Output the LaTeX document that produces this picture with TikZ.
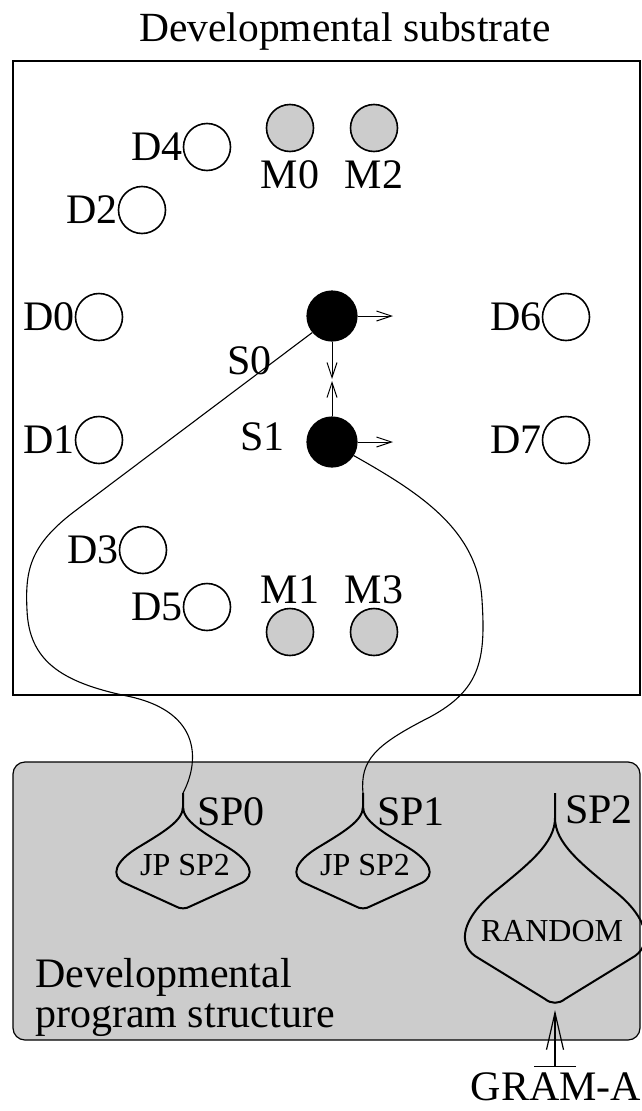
\documentclass[tikz,border=0pt]{standalone}
\usepackage{fontspec}
\setmainfont{Liberation Serif}
\usetikzlibrary{positioning,arrows.meta}

\tikzset{
  cell/.style={circle, draw, line width=1.6pt, minimum size=47pt, inner sep=0pt},
  morph/.style={cell, fill=black!20},
  spot/.style={circle, draw, fill=black, line width=1.2pt, minimum size=50pt, inner sep=0pt},
  lab/.style={inner sep=0pt, font=\fontsize{42}{44}\selectfont},
  small/.style={inner sep=0pt, font=\fontsize{32}{34}\selectfont},
  wire/.style={line width=1.1pt},
  sarrow/.style={line width=1pt, -{Straight Barb[length=15pt,width=10pt]}},
  spshape/.pic={
    \coordinate (-top) at (0,0);
    \coordinate (-bot) at (0,211);
    \draw[line width=2pt] (0,0) -- (0,25)
      .. controls (0,50) and (-25,70) .. (-62,100)
      .. controls (-92,125) and (-98,150) .. (-80,163)
      -- (-10,206) .. controls (-4,211) and (4,211) .. (10,206)
      -- (80,163) .. controls (98,150) and (92,125) .. (62,100)
      .. controls (25,70) and (0,50) .. (0,25);
  }
}

\begin{document}
\begin{tikzpicture}[x=1pt,y=-1pt]
\useasboundingbox (0,0) rectangle (642,1111);

\node[lab, anchor=base, font=\fontsize{41.5}{44}\selectfont] (title) at (345,41) {Developmental substrate};
\draw[line width=1.8pt] (13,61) rectangle (640,695);

% cells of the substrate
\node[cell] (d4) at (207,147) {};
\node[cell] (d2) at (142,210) {};
\node[cell] (d0) at (99,317) {};
\node[cell] (d1) at (99,440) {};
\node[cell] (d3) at (143,550) {};
\node[cell] (d5) at (207,607) {};
\node[cell] (d6) at (566,317) {};
\node[cell] (d7) at (566,440) {};
\node[morph] (m0) at (290,128) {};
\node[morph] (m2) at (374,128) {};
\node[morph] (m1) at (290,632) {};
\node[morph] (m3) at (374,632) {};
\node[spot] (s0) at (332,316) {};
\node[spot] (s1) at (332,442) {};

\node[lab, left=0pt of d4] (d4lab) {D4};
\node[lab, left=0pt of d2] (d2lab) {D2};
\node[lab, left=0pt of d0] (d0lab) {D0};
\node[lab, left=0pt of d1] (d1lab) {D1};
\node[lab, left=0pt of d3] (d3lab) {D3};
\node[lab, left=0pt of d5] (d5lab) {D5};
\node[lab, left=0pt of d6] (d6lab) {D6};
\node[lab, left=0pt of d7] (d7lab) {D7};
\node[lab, below=8pt of m0] (m0lab) {M0};
\node[lab, below=8pt of m2] (m2lab) {M2};
\node[lab, above=4pt of m1] (m1lab) {M1};
\node[lab, above=4pt of m3] (m3lab) {M3};
\node[lab, anchor=base east] (s0lab) at (272,374) {S0};
\node[lab, anchor=base east] (s1lab) at (285,450) {S1};

\coordinate (s0e) at (393,316);
\coordinate (s1e) at (393,442);
\coordinate (s0s) at (332,379);
\coordinate (s1n) at (332,381);
\draw[sarrow] (s0.east) -- (s0e);
\draw[sarrow] (s1.east) -- (s1e);
\draw[sarrow] (s0.south) -- (s0s);
\draw[sarrow] (s1.north) -- (s1n);

% program structure
\draw[rounded corners=12pt, fill=black!20, line width=1.2pt] (13,762) rectangle (640,1040);

\pic[xscale=0.74, yscale=0.55] (sp0) at (183,793) {spshape};
\pic[xscale=0.74, yscale=0.55] (sp1) at (363,793) {spshape};
\pic (sp2) at (555,793) {spshape};

\node[small] (jp0) at (185,865) {JP SP2};
\node[small] (jp1) at (365,865) {JP SP2};
\node[small] (rnd) at (552,931) {RANDOM};
\node[lab, anchor=base west] (sp0lab) at (197,825) {SP0};
\node[lab, anchor=base west] (sp1lab) at (377,825) {SP1};
\node[lab, anchor=base west] (sp2lab) at (565,823) {SP2};
\node[lab, anchor=north west, align=left, font=\fontsize{42}{40}\selectfont] (prog) at (35,958) {Developmental\\program structure};

\draw[wire] (s0.220) -- (75,511) .. controls (30,545) and (25,570) .. (27,610)
  .. controls (29,660) and (60,682) .. (127,696)
  .. controls (205,712) and (198,765) .. (sp0-top);
\draw[wire] (s1.-32) .. controls (420,493) and (478,530) .. (482,600)
  .. controls (486,660) and (480,690) .. (430,717)
  .. controls (375,745) and (360,760) .. (sp1-top);

\node[lab, anchor=base] (gram) at (556,1100) {GRAM-A};
\coordinate (gbar) at (555,1067);
\draw[line width=1.2pt, shorten >=6pt, {Bar[width=42pt]}-{Straight Barb[length=37pt,width=17pt]}] (gbar) -- (sp2-bot);

\end{tikzpicture}
\end{document}
